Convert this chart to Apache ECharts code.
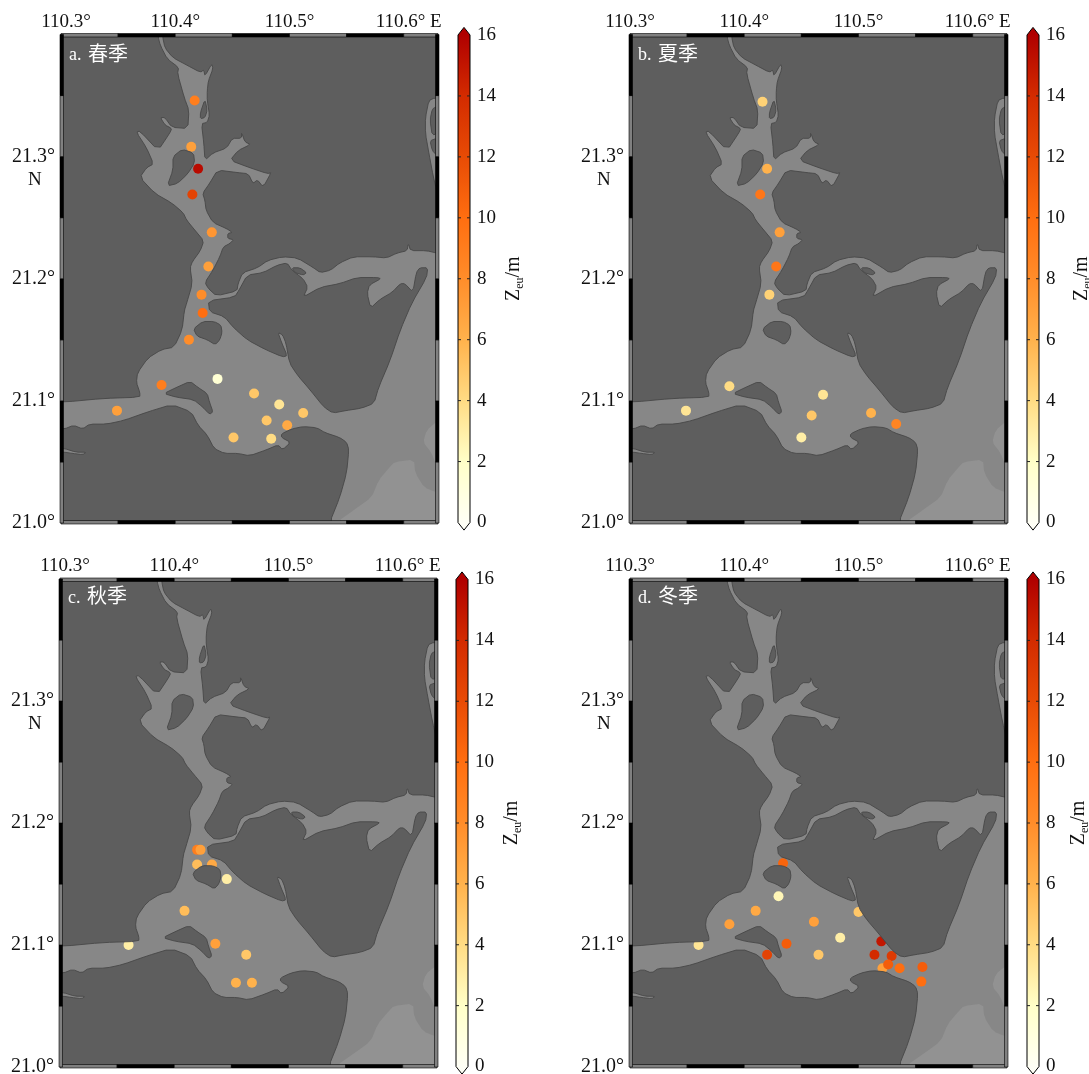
<!DOCTYPE html>
<html><head><meta charset="utf-8">
<style>html,body{margin:0;padding:0;background:#fff}#c{width:1089px;height:1074px}</style>
<script src="https://cdn.jsdelivr.net/npm/echarts@6/dist/echarts.min.js"></script>
</head><body><div id="c"></div>
<script>
// ---------- data ----------
const panelLetters = ['a. ','b. ','c. ','d. '];
const panelSeasons = ['春季','夏季','秋季','冬季'];
const lonTicks = [110.3,110.4,110.5,110.6];
const latTicks = [21.0,21.1,21.2,21.3];
const cbarTicks = [0,2,4,6,8,10,12,14,16];
const cbarColors = ['#fffff6','#ffffc8','#ffdc84','#ffb24c','#ff8d2a','#ff6e10','#e84b05','#d32b00','#b00000'];
// stations: [lon, lat, Zeu (m)]
const spring = [[110.417,21.346,9],[110.414,21.308,7],[110.420,21.290,15.5],[110.415,21.269,12.5],[110.432,21.238,7.5],[110.429,21.210,7],[110.423,21.187,8],[110.424,21.172,10],[110.412,21.150,8],[110.388,21.113,9],[110.349,21.092,7],[110.437,21.118,1.5],[110.469,21.106,5],[110.491,21.097,3.5],[110.512,21.090,5],[110.480,21.084,5],[110.498,21.080,6.5],[110.451,21.070,5],[110.484,21.069,4]];
const summer = [[110.416,21.345,4.5],[110.420,21.290,6],[110.414,21.269,9.5],[110.431,21.238,7],[110.428,21.210,9.5],[110.422,21.187,4.5],[110.387,21.112,4],[110.349,21.092,3.5],[110.469,21.105,3.5],[110.459,21.088,5],[110.511,21.090,6],[110.533,21.081,8.5],[110.450,21.070,3]];
const autumn = [[110.420,21.178,9],[110.423,21.178,7],[110.420,21.166,5.5],[110.433,21.166,6.5],[110.446,21.154,3],[110.409,21.128,5.5],[110.360,21.100,3],[110.436,21.101,7],[110.463,21.092,5],[110.454,21.069,6],[110.468,21.069,6]];
const winter = [[110.360,21.100,3.5],[110.387,21.117,7],[110.410,21.128,6.5],[110.430,21.140,2.5],[110.434,21.167,10.5],[110.500,21.127,5],[110.461,21.119,7],[110.484,21.106,3],[110.437,21.101,11],[110.420,21.092,12.5],[110.465,21.092,5],[110.520,21.103,15],[110.514,21.092,14],[110.529,21.091,13],[110.521,21.081,7],[110.526,21.084,11],[110.536,21.081,10],[110.556,21.082,11],[110.555,21.070,10]];
const seasons = [spring,summer,autumn,winter];
// map outlines: [east of 110.3°E, north of 21.0°N], in thousandths of a degree
const waterOutline = [[89,407],[89,398],[91,389],[98,381],[110,375],[122,369],[125,371],[126,366],[132,376],[133,372],[129,362],[128,354],[128,346],[130,334],[128,328],[123,327],[125,311],[126,297],[133,303],[145,307],[150,315],[158,315],[158,320],[161,312],[166,310],[155,305],[148,297],[165,291],[181,286],[184,287],[177,275],[172,281],[168,278],[164,286],[154,287],[137,289],[130,278],[124,270],[126,264],[127,256],[133,246],[145,241],[150,238],[146,237],[146,233],[151,232],[148,229],[142,226],[139,218],[133,207],[126,197],[129,192],[136,186],[154,190],[155,196],[159,205],[172,209],[181,215],[194,218],[207,217],[221,209],[227,205],[236,207],[244,213],[256,218],[273,218],[285,217],[294,221],[303,223],[304,229],[306,223],[320,223],[329,221],[400,221],[400,-100],[240,-100],[235,0],[244,21],[250,41],[252,60],[250,66],[244,70],[231,74],[224,78],[212,79],[202,77],[193,73],[193,70],[201,66],[194,60],[190,64],[180,60],[165,55],[155,57],[143,57],[134,61],[128,72],[120,80],[114,91],[97,97],[76,91],[55,84],[40,81],[25,81],[19,77],[11,80],[3,77],[-30,74],[-30,99],[3,99],[37,102],[69,103],[69,107],[66,115],[67,123],[76,135],[88,142],[99,144],[106,158],[108,174],[110,180],[115,196],[113,209],[115,214],[122,223],[125,231],[117,240],[110,248],[107,254],[97,262],[82,270],[69,283],[75,291],[81,294],[75,307],[66,320],[69,321],[85,305],[95,319],[97,323],[91,326],[87,332],[91,332],[97,324],[111,323],[112,338],[108,348],[102,368],[103,373],[93,380],[87,391],[85,398],[85,407]];
const eastLand = [[129,182],[152,185],[156,191],[163,203],[177,205],[189,211],[198,213],[202,207],[212,200],[216,193],[212,185],[227,193],[244,196],[259,201],[277,201],[280,200],[270,195],[268,188],[271,176],[279,183],[290,189],[297,196],[301,196],[308,189],[311,205],[314,209],[321,209],[320,201],[307,180],[297,158],[288,133],[278,111],[274,98],[263,94],[249,92],[238,90],[230,95],[218,109],[207,121],[200,131],[197,147],[194,154],[190,156],[193,148],[198,137],[194,136],[179,142],[163,150],[151,160],[143,169],[130,173]];
const upperIsland = [[116,303],[106,306],[98,300],[98,289],[93,276],[102,278],[111,286],[117,295]];
const riverIslet = [[126,347],[128,338],[126,332],[122,331],[122,336]];
const middleIsland = [[116,159],[124,165],[134,165],[140,162],[141,156],[139,150],[135,146],[128,150],[119,153]];
const lowerIsland = [[90,106],[101,111],[113,116],[120,111],[128,106],[130,99],[133,91],[130,89],[124,95],[116,101],[101,103]];
const branchIslet = [[202,209],[209,209],[215,205],[212,203],[205,205]];
const neLagoon = [[327,348],[322,346],[319,332],[319,319],[322,303],[326,283],[330,268],[336,268],[336,348]];
const neBar1 = [[325,339],[329,341],[332,321],[325,317],[323,330]];
const neBar2 = [[323,313],[329,315],[329,301],[325,305]];
const swCreek = [[-5,61],[3,61],[13,58],[22,58],[19,56],[10,57],[3,58],[-5,58]];
const deepSea1 = [[242,1],[257,11],[272,21],[278,35],[288,46],[292,50],[309,52],[310,41],[318,29],[329,25],[400,20],[400,-60],[240,-60]];
const deepSea2 = [[329,83],[320,76],[317,66],[324,58],[329,46],[400,40],[400,90]];
const frameLon = [110.3,110.35,110.4,110.45,110.5,110.55,110.6,110.63];
const frameLat = [21.0,21.05,21.1,21.15,21.2,21.25,21.3,21.35,21.4];

// ---------- layout ----------
const FONT = '"Liberation Serif","Noto Sans CJK SC",serif';
const mapW = 377,
  grids = [{l:61,t:34.5,h:488.5,cb:458},{l:630,t:34.5,h:488.5,cb:1027},{l:60,t:579,h:488,cb:456},{l:630,t:579,h:488,cb:1027}];
const firstShift = [10,0,10,0], nameGap=[32,31,32,27];
const LAND='#5e5e5e', WATER='#878787', DEEP='#929292', COAST='#474747';

const toDeg = p => [110.3+p[0]/1000, 21+p[1]/1000];
function chaikin(pts){ const o=[]; const n=pts.length;
  for(let i=0;i<n;i++){const a=pts[i],b=pts[(i+1)%n];
    o.push([a[0]*.8+b[0]*.2,a[1]*.8+b[1]*.2],[a[0]*.2+b[0]*.8,a[1]*.2+b[1]*.8]);}
  return o;}
const px = (api,outline) => chaikin(outline.map(q=>api.coord(toDeg(q))));
function area(p){let s=0;for(let i=0;i<p.length;i++){const a=p[i],b=p[(i+1)%p.length];s+=a[0]*b[1]-b[0]*a[1];}return s;}
const poly = (api,o,fill,stroke) => ({type:'polygon',shape:{points:px(api,o)},style:{fill,stroke:stroke||null,lineWidth:stroke?0.9:0}});
const t2 = v => v.toFixed(1);

const singleDatum=[[110.3,21.0]];
const series=[], xAxis=[], yAxis=[], gridOpt=[], graphic=[];
const scatterIdx=[];
grids.forEach((g,i)=>{
  gridOpt.push({left:g.l,top:g.t,width:mapW,height:g.h,outerBoundsMode:'none'});
  xAxis.push({gridIndex:i,type:'value',position:'top',min:110.3,max:110.63,interval:0.1,
    axisLine:{show:false},axisTick:{show:false},splitLine:{show:false},
    axisLabel:{margin:3,color:'#111',fontFamily:FONT,fontSize:19,hideOverlap:false,
      formatter:v=>{const k=lonTicks.findIndex(t=>Math.abs(t-v)<1e-6); if(k<0) return '';
        if(k===0&&firstShift[i]) return '{a|'+t2(v)+'°}';
        if(k===3) return '{b|'+t2(v)+'° E}';
        return t2(v)+'°';},
      rich:{a:{padding:[0,0,0,firstShift[i]],fontFamily:FONT,fontSize:19,color:'#111'},
            b:{padding:[0,0,0,10],fontFamily:FONT,fontSize:19,color:'#111'}}}});
  yAxis.push({gridIndex:i,type:'value',min:21.0,max:21.4,interval:0.1,
    axisLine:{show:false},axisTick:{show:false},splitLine:{show:false},
    axisLabel:{margin:6,color:'#111',fontFamily:FONT,fontSize:20,
      formatter:v=>latTicks.some(t=>Math.abs(t-v)<1e-6)?t2(v)+'°':''}});
  const base={type:'custom',coordinateSystem:'cartesian2d',xAxisIndex:i,yAxisIndex:i,data:singleDatum,silent:true,clip:true,animation:false};
  series.push({...base,z:1,renderItem:(p,api)=>{
    const a=api.coord([110.25,21.45]),b=api.coord([110.7,20.95]);
    return {type:'group',children:[
      {type:'rect',shape:{x:a[0],y:a[1],width:b[0]-a[0],height:b[1]-a[1]},style:{fill:WATER}},
      poly(api,deepSea1,DEEP),poly(api,deepSea2,DEEP)]};}});
  scatterIdx.push(series.length);
  series.push({type:'scatter',xAxisIndex:i,yAxisIndex:i,data:seasons[i],symbolSize:10,z:2,silent:true,animation:false,clip:true,
    itemStyle:{opacity:1}});
  series.push({...base,z:3,renderItem:(p,api)=>{
    const a=api.coord([110.2,21.5]),b=api.coord([110.75,20.9]);
    let w=px(api,waterOutline);
    const outer=[[a[0],a[1]],[b[0],a[1]],[b[0],b[1]],[a[0],b[1]]];
    if(area(w)*area(outer)>0) w=w.slice().reverse();
    const d=q=>'M'+q.map(r=>r[0].toFixed(2)+' '+r[1].toFixed(2)).join('L')+'Z';
    return {type:'group',children:[
      {type:'path',shape:{pathData:d(outer)+d(w)},style:{fill:LAND,stroke:COAST,lineWidth:0.9}},
      poly(api,eastLand,LAND,COAST),poly(api,upperIsland,LAND,COAST),poly(api,riverIslet,LAND,COAST),
      poly(api,middleIsland,LAND,COAST),poly(api,lowerIsland,LAND,COAST),poly(api,branchIslet,LAND,COAST),
      poly(api,neLagoon,WATER,COAST),poly(api,neBar1,LAND,COAST),poly(api,neBar2,LAND,COAST),poly(api,swCreek,WATER,COAST)]};}});
  series.push({...base,z:4,clip:false,renderItem:(p,api)=>{
    const ch=[], th=3.5, lo=api.coord([110.3,21.0]), hi=api.coord([110.63,21.4]);
    const seg=(x,y,w,h,k)=>ch.push({type:'rect',shape:{x,y,width:w,height:h},style:{fill:k%2?'#000':'#808080',stroke:'#000',lineWidth:0.6}});
    for(let k=0;k<frameLon.length-1;k++){const x0=api.coord([frameLon[k],21])[0],x1=api.coord([frameLon[k+1],21])[0];
      seg(x0,hi[1]-1,x1-x0,th,k); seg(x0,lo[1]-th+1,x1-x0,th,k);}
    for(let k=0;k<frameLat.length-1;k++){const y0=api.coord([110.3,frameLat[k]])[1],y1=api.coord([110.3,frameLat[k+1]])[1];
      seg(lo[0]-1,y1,th,y0-y1,k); seg(hi[0]-th+1,y1,th,y0-y1,k);}
    return {type:'group',children:ch};}});
});
grids.forEach((g,i)=>{
  const ci=i+4;
  gridOpt[ci]={left:g.cb,top:g.t+0.5,width:12,height:g.h-1,outerBoundsMode:'none'};
  xAxis[ci]={gridIndex:ci,type:'value',min:0,max:1,show:false};
  yAxis[ci]={gridIndex:ci,type:'value',position:'right',min:0,max:16,interval:2,
    axisLine:{show:false},axisTick:{show:false},splitLine:{show:false},
    axisLabel:{margin:7,color:'#111',fontFamily:FONT,fontSize:19,formatter:v=>cbarTicks.includes(v)?String(v):''},
    name:'{z|Z}{s|eu}{z|/m}',nameLocation:'middle',nameRotate:90,nameGap:nameGap[i],
    nameTextStyle:{rich:{z:{fontFamily:FONT,fontSize:20,color:'#111'},s:{fontFamily:FONT,fontSize:12,color:'#111',verticalAlign:'bottom',lineHeight:24}}}};
  series.push({type:'custom',coordinateSystem:'cartesian2d',xAxisIndex:ci,yAxisIndex:ci,data:[[0,0]],silent:true,clip:false,animation:false,z:2,
    renderItem:(p,api)=>{
      const c=(x,y)=>api.coord([x,y]);
      const pts=[c(.5,16.25),c(1,16),c(1,0),c(.5,-.25),c(0,0),c(0,16)];
      const stops=[];
      cbarColors.forEach((col,k)=>stops.push({offset:(16.25-cbarTicks[k])/16.5,color:col}));
      stops.reverse();
      const ch=[{type:'polygon',shape:{points:pts},style:{fill:new echarts.graphic.LinearGradient(0,0,0,1,stops),stroke:'#000',lineWidth:1}}];
      cbarTicks.slice(1,-1).forEach(v=>{
        const l=c(0,v),r=c(1,v);
        ch.push({type:'line',shape:{x1:l[0],y1:l[1],x2:l[0]+3,y2:l[1]},style:{stroke:'#222',lineWidth:1}});
        ch.push({type:'line',shape:{x1:r[0]-3,y1:r[1],x2:r[0],y2:r[1]},style:{stroke:'#222',lineWidth:1}});
      });
      return {type:'group',children:ch};}});
  graphic.push({type:'text',left:g.l+8,top:g.t+(i<2?11:9),z:10,style:{text:'{l|'+panelLetters[i]+'}{c|'+panelSeasons[i]+'}',
    rich:{l:{fill:'#fff',fontFamily:FONT,fontSize:18,padding:[0,2,0,0]},c:{fill:'#fff',fontFamily:FONT,fontSize:20}}}});
  graphic.push({type:'text',left:(i%2?597:28),top:g.t+136,z:10,style:{text:'N',fill:'#111',font:'19px '+FONT}});
});
const chart=echarts.init(document.getElementById('c'),null,{renderer:'canvas'});
chart.setOption({animation:false,backgroundColor:'#fff',grid:gridOpt,xAxis,yAxis,series,graphic,
  visualMap:{show:false,type:'continuous',min:0,max:16,dimension:2,seriesIndex:scatterIdx,inRange:{color:cbarColors}}});
</script></body></html>
